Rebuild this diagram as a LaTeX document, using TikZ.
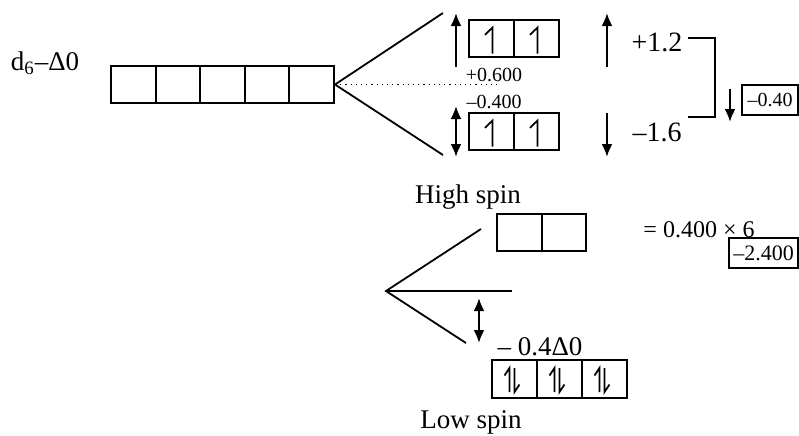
\documentclass[tikz,border=0pt]{standalone}
\usepackage{fontspec}
\setmainfont{Liberation Serif}
\usetikzlibrary{arrows.meta}
\newcommand{\harpup}[1]{\draw[spin] ([shift={(1,15)}]#1.center) -- ++(0,-26) -- ++(-7.5,7.3);}
\newcommand{\harppair}[1]{%
  \draw[spin] ([shift={(-5,13)}]#1.center) -- ++(0,-24) -- ++(-5,7.5);
  \draw[spin] ([shift={(0,-11)}]#1.center) -- ++(0,24) -- ++(5,-7.5);}
\tikzset{
  orb/.style={draw, line width=1pt, minimum width=22.3pt, minimum height=18.5pt, inner sep=0pt},
  valbox/.style={draw, line width=0.9pt, minimum height=15pt, inner sep=0pt},
  split/.style={line width=0.9pt},
  spin/.style={line width=0.85pt},
  gap/.style={line width=1.1pt, -{Latex[length=6.5pt,width=5.5pt]}},
  gapboth/.style={line width=1.1pt, {Latex[length=6.5pt,width=5.5pt]}-{Latex[length=6.5pt,width=5.5pt]}},
  big/.style={font=\fontsize{13.5}{15}\selectfont, inner sep=0pt},
  mid/.style={font=\fontsize{12}{13}\selectfont, inner sep=0pt},
  small/.style={font=\fontsize{10}{11}\selectfont, inner sep=0pt},
}
\begin{document}
\begin{tikzpicture}[x=0.5pt,y=-0.5pt]
  \useasboundingbox (0,0) rectangle (799,435);
  % free ion
  \node[big] (dsix) at (45,63) {d\textsubscript{6}–Δ0};
  \foreach \i in {1,...,5}
    \node[orb] (d\i) at ({88.7+44.6*\i},84.5) {};
  % high spin
  \coordinate (egend) at (443,13);
  \coordinate (tgend) at (443,155);
  \coordinate (baryc) at (499,84.5);
  \draw[split] (egend) -- (d5.east) -- (tgend);
  \draw[dotted, line width=0.6pt] (d5.east) -- (baryc);
  \foreach \i/\x in {1/491.5,2/536.5} {
    \node[orb, minimum width=22.5pt] (eg\i) at (\x,38.5) {};
    \node[orb, minimum width=22.5pt] (tg\i) at (\x,131.5) {};
    \harpup{eg\i}
    \harpup{tg\i}
  }
  \coordinate (upA) at (456,67);
  \coordinate (upB) at (456,13);
  \coordinate (twA) at (456,106);
  \coordinate (twB) at (456,157);
  \draw[gap] (upA) -- (upB);
  \draw[gapboth] (twA) -- (twB);
  \node[small] (egshift) at (494,75) {+0.600};
  \node[small] (tgshift) at (494,102) {–0.400};
  \coordinate (rupA) at (607,67);
  \coordinate (rupB) at (607,13);
  \coordinate (rdnA) at (607,113);
  \coordinate (rdnB) at (607,157);
  \draw[gap] (rupA) -- (rupB);
  \draw[gap] (rdnA) -- (rdnB);
  \node[big, font=\fontsize{14}{15}\selectfont] (egval) at (657,42) {+1.2};
  \node[big, font=\fontsize{14}{15}\selectfont] (tgval) at (657,132) {–1.6};
  \coordinate (brA) at (688,38);
  \coordinate (brB) at (688,117);
  \draw[split] (brA) -- ++(27,0) |- (brB);
  \coordinate (sumA) at (730,89);
  \coordinate (sumB) at (730,122);
  \draw[gap] (sumA) -- (sumB);
  \node[valbox, small, minimum width=28pt] (hsval) at (770,100) {–0.40};
  \node[big] (hslabel) at (468,197) {High spin};
  % low spin
  \foreach \i/\x in {1/519.25,2/563.75}
    \node[orb, minimum width=22.25pt] (le\i) at (\x,232.5) {};
  \node[mid] (lsmul) at (699,230) {= 0.400 × 6};
  \node[valbox, small, font=\fontsize{11}{12}\selectfont, minimum width=34.5pt] (lsval) at (763.5,253) {–2.400};
  \coordinate (lsapex) at (386,291);
  \coordinate (lsup) at (481,229);
  \coordinate (lsmid) at (512,291);
  \coordinate (lsdn) at (466,343);
  \draw[split] (lsup) -- (lsapex) -- (lsdn);
  \draw[split] (lsapex) -- (lsmid);
  \coordinate (lgA) at (479,298);
  \coordinate (lgB) at (479,343);
  \draw[gapboth] (lgA) -- (lgB);
  \node[big] (lsgap) at (540,347) {– 0.4Δ0};
  \foreach \i/\x in {1/514.5,2/559.5,3/604.5} {
    \node[orb, minimum width=22.5pt, minimum height=19pt] (lt\i) at (\x,379) {};
    \harppair{lt\i}
  }
  \node[big] (lslabel) at (471,422) {Low spin};
\end{tikzpicture}
\end{document}
